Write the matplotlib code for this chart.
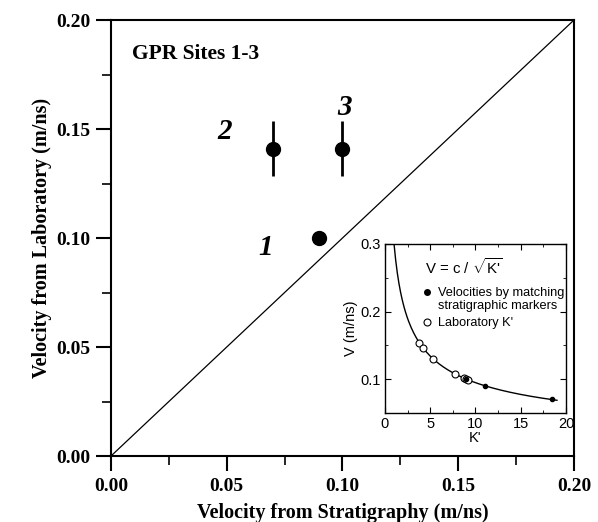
import numpy as np
import matplotlib
matplotlib.use('Agg')
import matplotlib.pyplot as plt
from matplotlib.ticker import MultipleLocator

plt.rcParams['mathtext.fontset'] = 'custom'
plt.rcParams['mathtext.rm'] = 'Liberation Sans'
plt.rcParams['mathtext.it'] = 'Liberation Sans:italic'

# main panel: velocity from stratigraphy vs laboratory, sites 1-3
site_names = ['1', '2', '3']
v_strat = [0.090, 0.070, 0.100]
v_lab = [0.100, 0.141, 0.141]
v_lab_err = [0.0, 0.0125, 0.0125]

# inset: V vs K'
k_matched = [8.9, 11.0, 18.4]
v_matched = [0.100, 0.090, 0.070]
k_lab = [3.8, 4.2, 5.3, 7.7, 8.7, 9.0, 9.2]
v_lab_inset = [0.154, 0.146, 0.130, 0.108, 0.102, 0.100, 0.099]
c_light = 0.3  # m/ns

serif = 'Liberation Serif'
sans = 'Liberation Sans'

fig = plt.figure(figsize=(5.98, 5.22), dpi=100)
ax = fig.add_axes([0.1856, 0.1264, 0.7742, 0.8352])

ax.plot([0, 0.2], [0, 0.2], color='black', lw=0.9)
ax.errorbar(v_strat, v_lab, yerr=v_lab_err, fmt='o', color='black',
            ms=10, elinewidth=2, capsize=0)

label_pos = {'1': (0.067, 0.0955), '2': (0.049, 0.149), '3': (0.101, 0.160)}
for name in site_names:
    x, y = label_pos[name]
    ax.text(x, y, name, fontsize=21, fontweight='bold', fontstyle='italic',
            family=serif, ha='center', va='center')

ax.text(0.009, 0.1845, 'GPR Sites 1-3', fontsize=15.5, fontweight='bold',
        family=serif, ha='left', va='center')

ax.set_xlim(0, 0.2)
ax.set_ylim(0, 0.2)
ax.xaxis.set_major_locator(MultipleLocator(0.05))
ax.yaxis.set_major_locator(MultipleLocator(0.05))
ax.xaxis.set_minor_locator(MultipleLocator(0.025))
ax.yaxis.set_minor_locator(MultipleLocator(0.025))
ax.xaxis.set_major_formatter(lambda v, p: f'{v:.2f}')
ax.yaxis.set_major_formatter(lambda v, p: f'{v:.2f}')
ax.tick_params(which='major', direction='out', length=10.5, width=1.5, pad=4)
ax.tick_params(axis='x', which='major', pad=5)
ax.tick_params(which='minor', direction='out', length=6.5, width=1.2)
for lab in ax.get_xticklabels() + ax.get_yticklabels():
    lab.set_fontfamily(serif)
    lab.set_fontweight('bold')
    lab.set_fontsize(14)
for s in ax.spines.values():
    s.set_linewidth(1.5)

ax.set_xlabel('Velocity from Stratigraphy (m/ns)', fontsize=14.5,
              fontweight='bold', family=serif, labelpad=6)
ax.set_ylabel('Velocity from Laboratory (m/ns)', fontsize=14.5,
              fontweight='bold', family=serif, labelpad=3)

# inset
ins = fig.add_axes([0.6438, 0.2088, 0.3027, 0.3238])
k_curve = np.linspace(1.0, 19.0, 200)
ins.plot(k_curve, c_light / np.sqrt(k_curve), color='black', lw=1)
ins.plot(k_lab, v_lab_inset, 'o', mfc='white', mec='black', ms=5, mew=0.8)
ins.plot(k_matched, v_matched, 'o', color='black', ms=3)

ins.set_xlim(0, 20)
ins.set_ylim(0.05, 0.3)
ins.xaxis.set_major_locator(MultipleLocator(5))
ins.xaxis.set_minor_locator(MultipleLocator(2.5))
ins.yaxis.set_major_locator(MultipleLocator(0.1))
ins.yaxis.set_minor_locator(MultipleLocator(0.05))
ins.tick_params(which='both', direction='in', top=True, right=True,
                labelsize=10.5, pad=3)
ins.tick_params(which='major', length=4)
ins.tick_params(which='minor', length=2.5)
for lab in ins.get_xticklabels() + ins.get_yticklabels():
    lab.set_fontfamily(sans)
for s in ins.spines.values():
    s.set_linewidth(1)
ins.set_xlabel("K'", fontsize=10.5, family=sans, labelpad=0)
ins.set_ylabel('V (m/ns)', fontsize=10.5, family=sans, labelpad=2)

# key inside the inset
ins.text(0.221, 0.864, r"V = c / $\sqrt{\text{K'}}$", transform=ins.transAxes,
         fontsize=10.8, family=sans, ha='left', va='center')
ins.plot([0.232], [0.716], 'o', color='black', ms=4, transform=ins.transAxes)
ins.text(0.293, 0.672, 'Velocities by matching\nstratigraphic markers',
         transform=ins.transAxes, fontsize=9.2, family=sans, ha='left',
         va='center', linespacing=1.1)
ins.plot([0.232], [0.538], 'o', mfc='white', mec='black', ms=5, mew=0.8,
         transform=ins.transAxes)
ins.text(0.293, 0.533, "Laboratory K'", transform=ins.transAxes,
         fontsize=9.2, family=sans, ha='left', va='center')

fig.savefig('out.png', dpi=100)
